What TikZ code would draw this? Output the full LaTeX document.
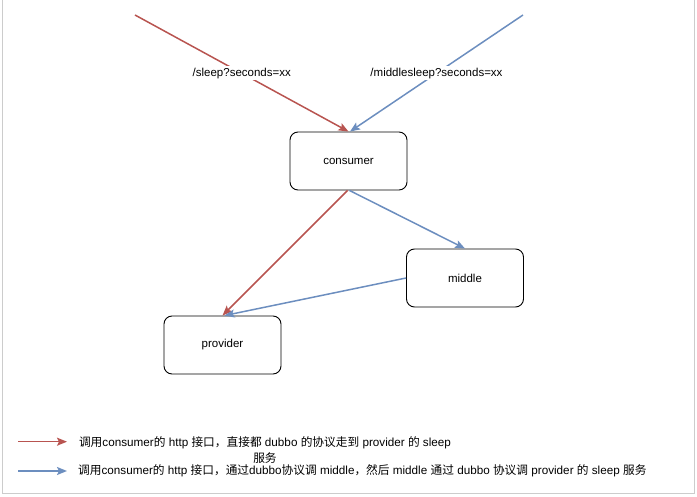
\documentclass[tikz,border=0pt]{standalone}
\usepackage{fontspec}
\setmainfont{Liberation Sans}
\newfontfamily\cjk{Noto Sans CJK SC}
\usetikzlibrary{arrows.meta}
\definecolor{redc}{HTML}{B85450}
\definecolor{bluec}{HTML}{6C8EBF}
\definecolor{framec}{HTML}{CCCCCC}
\begin{document}
\begin{tikzpicture}[x=1pt,y=-1pt,
  box/.style={draw=black, line width=0.9pt, rounded corners=8pt, minimum width=117pt, minimum height=58pt, inner sep=0pt, font=\fontsize{11.5}{13}\selectfont},
  lbl/.style={fill=white, inner sep=1.5pt, font=\fontsize{11.5}{13}\selectfont},
  redarr/.style={draw=redc, line width=1.5pt, -{Stealth[length=10pt,width=8pt,inset=2pt]}},
  bluearr/.style={draw=bluec, line width=1.5pt, -{Stealth[length=10pt,width=8pt,inset=2pt]}},
  legtext/.style={inner sep=0pt, font=\fontsize{11.7}{16}\selectfont}
]
\useasboundingbox (0,0) rectangle (697,497);
\draw[framec, line width=1pt] (2.5,0) -- (2.5,493.5) -- (694.5,493.5) -- (694.5,0);

\node[box] (consumer) at (348.5,161) {consumer};
\node[box] (middle) at (465,278) {middle};
\node[box] (provider) at (222.5,345) {provider};

\coordinate (rs) at (135,15);
\coordinate (bs) at (523,15);

\draw[redarr] (rs) -- (consumer.north) node[lbl, midway] (l1) {/sleep?seconds=xx};
\draw[bluearr] (bs) -- ([xshift=1.5pt]consumer.north) node[lbl, midway] (l2) {/middlesleep?seconds=xx};

\draw[redarr] ([xshift=-1pt]consumer.south) -- (provider.north);
\draw[bluearr] ([xshift=1pt]consumer.south) -- (middle.north);
\draw[bluearr] (middle.west) -- ([xshift=2pt]provider.north);

\coordinate (lr1) at (18,441.7);
\coordinate (lr2) at (67,441.7);
\coordinate (lb1) at (18,471);
\coordinate (lb2) at (67,471);
\draw[redarr] (lr1) -- (lr2);
\draw[bluearr] (lb1) -- (lb2);

\node[legtext, align=center, anchor=north] (t1) at (265,436.5) {{\cjk 调用}consumer{\cjk 的} http {\cjk 接口，直接都} dubbo {\cjk 的协议走到} provider {\cjk 的} sleep\\{\cjk 服务}};
\node[legtext, anchor=west] (t2) at (78,471) {{\cjk 调用}consumer{\cjk 的} http {\cjk 接口，通过}dubbo{\cjk 协议调} middle{\cjk ，然后} middle {\cjk 通过} dubbo {\cjk 协议调} provider {\cjk 的} sleep {\cjk 服务}};
\end{tikzpicture}
\end{document}
